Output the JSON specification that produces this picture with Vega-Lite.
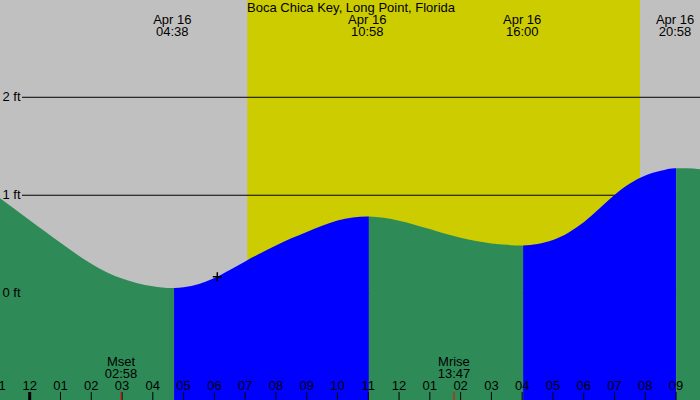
{
  "$schema": "https://vega.github.io/schema/vega-lite/v6.json",
  "width": 700,
  "height": 400,
  "padding": 0,
  "autosize": {"type": "none"},
  "background": "#c0c0c0",
  "config": {"view": {"stroke": null}, "font": "Liberation Sans"},
  "resolve": {"scale": {"color": "independent"}},
  "datasets": {
    "heading": [
      {"h": 10.44, "label": "Boca Chica Key, Long Point, Florida"}
    ],
    "sky": [
      {"start": -0.965, "end": 7.07, "period": "night"},
      {"start": 7.07, "end": 19.83, "period": "day"},
      {"start": 19.83, "end": 21.777, "period": "night"}
    ],
    "levels": [
      {"ft": 0, "label": "0 ft"},
      {"ft": 1, "label": "1 ft"},
      {"ft": 2, "label": "2 ft"}
    ],
    "hours": [
      {"h": -1, "label": "11"}, {"h": 0, "label": "12"}, {"h": 1, "label": "01"}, {"h": 2, "label": "02"},
      {"h": 3, "label": "03"}, {"h": 4, "label": "04"}, {"h": 5, "label": "05"}, {"h": 6, "label": "06"},
      {"h": 7, "label": "07"}, {"h": 8, "label": "08"}, {"h": 9, "label": "09"}, {"h": 10, "label": "10"},
      {"h": 11, "label": "11"}, {"h": 12, "label": "12"}, {"h": 13, "label": "01"}, {"h": 14, "label": "02"},
      {"h": 15, "label": "03"}, {"h": 16, "label": "04"}, {"h": 17, "label": "05"}, {"h": 18, "label": "06"},
      {"h": 19, "label": "07"}, {"h": 20, "label": "08"}, {"h": 21, "label": "09"}
    ],
    "tide": [
      {"h": -0.965, "ft": 0.969, "seg": 1, "phase": "falling"},
      {"h": -0.5, "ft": 0.862, "seg": 1, "phase": "falling"},
      {"h": 0, "ft": 0.746, "seg": 1, "phase": "falling"},
      {"h": 0.5, "ft": 0.63, "seg": 1, "phase": "falling"},
      {"h": 1, "ft": 0.515, "seg": 1, "phase": "falling"},
      {"h": 1.5, "ft": 0.402, "seg": 1, "phase": "falling"},
      {"h": 2, "ft": 0.3, "seg": 1, "phase": "falling"},
      {"h": 2.5, "ft": 0.215, "seg": 1, "phase": "falling"},
      {"h": 3, "ft": 0.15, "seg": 1, "phase": "falling"},
      {"h": 3.5, "ft": 0.103, "seg": 1, "phase": "falling"},
      {"h": 4, "ft": 0.072, "seg": 1, "phase": "falling"},
      {"h": 4.3, "ft": 0.058, "seg": 1, "phase": "falling"},
      {"h": 4.633, "ft": 0.052, "seg": 1, "phase": "falling"},
      {"h": 4.69, "ft": 0.052, "seg": 1, "phase": "falling"},
      {"h": 4.69, "ft": 0.052, "seg": 2, "phase": "rising"},
      {"h": 5, "ft": 0.062, "seg": 2, "phase": "rising"},
      {"h": 5.5, "ft": 0.095, "seg": 2, "phase": "rising"},
      {"h": 6, "ft": 0.155, "seg": 2, "phase": "rising"},
      {"h": 6.5, "ft": 0.238, "seg": 2, "phase": "rising"},
      {"h": 7, "ft": 0.325, "seg": 2, "phase": "rising"},
      {"h": 7.5, "ft": 0.408, "seg": 2, "phase": "rising"},
      {"h": 8, "ft": 0.487, "seg": 2, "phase": "rising"},
      {"h": 8.5, "ft": 0.56, "seg": 2, "phase": "rising"},
      {"h": 9, "ft": 0.626, "seg": 2, "phase": "rising"},
      {"h": 9.5, "ft": 0.688, "seg": 2, "phase": "rising"},
      {"h": 10, "ft": 0.741, "seg": 2, "phase": "rising"},
      {"h": 10.5, "ft": 0.772, "seg": 2, "phase": "rising"},
      {"h": 10.967, "ft": 0.782, "seg": 2, "phase": "rising"},
      {"h": 11.02, "ft": 0.782, "seg": 2, "phase": "rising"},
      {"h": 11.02, "ft": 0.782, "seg": 3, "phase": "falling"},
      {"h": 11.5, "ft": 0.77, "seg": 3, "phase": "falling"},
      {"h": 12, "ft": 0.74, "seg": 3, "phase": "falling"},
      {"h": 12.5, "ft": 0.7, "seg": 3, "phase": "falling"},
      {"h": 13, "ft": 0.655, "seg": 3, "phase": "falling"},
      {"h": 13.5, "ft": 0.607, "seg": 3, "phase": "falling"},
      {"h": 14, "ft": 0.566, "seg": 3, "phase": "falling"},
      {"h": 14.5, "ft": 0.532, "seg": 3, "phase": "falling"},
      {"h": 15, "ft": 0.508, "seg": 3, "phase": "falling"},
      {"h": 15.5, "ft": 0.494, "seg": 3, "phase": "falling"},
      {"h": 16, "ft": 0.486, "seg": 3, "phase": "falling"},
      {"h": 16.03, "ft": 0.486, "seg": 3, "phase": "falling"},
      {"h": 16.03, "ft": 0.486, "seg": 4, "phase": "rising"},
      {"h": 16.5, "ft": 0.502, "seg": 4, "phase": "rising"},
      {"h": 17, "ft": 0.543, "seg": 4, "phase": "rising"},
      {"h": 17.5, "ft": 0.618, "seg": 4, "phase": "rising"},
      {"h": 18, "ft": 0.725, "seg": 4, "phase": "rising"},
      {"h": 18.5, "ft": 0.862, "seg": 4, "phase": "rising"},
      {"h": 19, "ft": 1.003, "seg": 4, "phase": "rising"},
      {"h": 19.5, "ft": 1.12, "seg": 4, "phase": "rising"},
      {"h": 20, "ft": 1.202, "seg": 4, "phase": "rising"},
      {"h": 20.5, "ft": 1.25, "seg": 4, "phase": "rising"},
      {"h": 20.967, "ft": 1.276, "seg": 4, "phase": "rising"},
      {"h": 21.0, "ft": 1.276, "seg": 4, "phase": "rising"},
      {"h": 21.0, "ft": 1.276, "seg": 5, "phase": "falling"},
      {"h": 21.35, "ft": 1.275, "seg": 5, "phase": "falling"},
      {"h": 21.777, "ft": 1.265, "seg": 5, "phase": "falling"}
    ],
    "extremes": [
      {"h": 4.633, "label": "Apr 16\n04:38"},
      {"h": 10.967, "label": "Apr 16\n10:58"},
      {"h": 16.0, "label": "Apr 16\n16:00"},
      {"h": 20.967, "label": "Apr 16\n20:58"}
    ],
    "moon": [
      {"h": 2.967, "label": "Mset\n02:58"},
      {"h": 13.783, "label": "Mrise\n13:47"}
    ],
    "now": [
      {"h": 6.095, "ft": 0.169}
    ]
  },
  "layer": [
    {
      "data": {"name": "sky"},
      "mark": {"type": "rect", "clip": true},
      "encoding": {
        "x": {"field": "start", "type": "quantitative", "scale": {"domain": [-0.965, 21.777], "nice": false, "zero": false}, "axis": null},
        "x2": {"field": "end"},
        "color": {"field": "period", "type": "nominal", "scale": {"domain": ["night", "day"], "range": ["#c0c0c0", "#cccc00"]}, "legend": null}
      }
    },
    {
      "data": {"name": "levels"},
      "mark": {"type": "rule", "color": "#000000", "strokeWidth": 1},
      "encoding": {
        "y": {"field": "ft", "type": "quantitative", "scale": {"domain": [-1.09, 2.993], "nice": false, "zero": false}, "axis": null},
        "x": {"datum": -0.25, "type": "quantitative"},
        "x2": {"datum": 21.777}
      }
    },
    {
      "data": {"name": "tide"},
      "mark": {"type": "area", "interpolate": "monotone", "clip": true},
      "encoding": {
        "x": {"field": "h", "type": "quantitative"},
        "y": {"field": "ft", "type": "quantitative", "stack": null},
        "y2": {"datum": -1.09},
        "color": {"field": "phase", "type": "nominal", "scale": {"domain": ["falling", "rising"], "range": ["#2e8b57", "#0000ff"]}, "legend": null},
        "detail": {"field": "seg", "type": "nominal"}
      }
    },
    {
      "data": {"name": "levels"},
      "mark": {"type": "text", "align": "left", "baseline": "middle", "dx": 2.5, "fontSize": 13, "color": "#000000"},
      "encoding": {
        "y": {"field": "ft", "type": "quantitative"},
        "x": {"datum": -0.965, "type": "quantitative"},
        "text": {"field": "label"}
      }
    },
    {
      "data": {"name": "hours"},
      "mark": {"type": "rule", "color": "#000000"},
      "encoding": {
        "x": {"field": "h", "type": "quantitative"},
        "y": {"datum": -1.09, "type": "quantitative"},
        "y2": {"datum": -1.008},
        "strokeWidth": {"condition": {"test": "datum.h === 0", "value": 3}, "value": 1}
      }
    },
    {
      "data": {"name": "hours"},
      "mark": {"type": "text", "align": "center", "baseline": "alphabetic", "dy": -10, "fontSize": 13, "color": "#000000"},
      "encoding": {
        "x": {"field": "h", "type": "quantitative"},
        "y": {"datum": -1.09, "type": "quantitative"},
        "text": {"field": "label"}
      }
    },
    {
      "data": {"name": "heading"},
      "mark": {"type": "text", "align": "center", "baseline": "alphabetic", "dy": 12, "fontSize": 13, "color": "#000000"},
      "encoding": {
        "x": {"field": "h", "type": "quantitative"},
        "y": {"datum": 2.993, "type": "quantitative"},
        "text": {"field": "label"}
      }
    },
    {
      "data": {"name": "extremes"},
      "mark": {"type": "text", "align": "center", "baseline": "alphabetic", "dy": 24, "lineBreak": "\n", "lineHeight": 12, "fontSize": 13, "color": "#000000"},
      "encoding": {
        "x": {"field": "h", "type": "quantitative"},
        "y": {"datum": 2.993, "type": "quantitative"},
        "text": {"field": "label"}
      }
    },
    {
      "data": {"name": "moon"},
      "mark": {"type": "text", "align": "center", "baseline": "alphabetic", "dy": -34, "lineBreak": "\n", "lineHeight": 12, "fontSize": 13, "color": "#000000"},
      "encoding": {
        "x": {"field": "h", "type": "quantitative"},
        "y": {"datum": -1.09, "type": "quantitative"},
        "text": {"field": "label"}
      }
    },
    {
      "data": {"name": "moon"},
      "mark": {"type": "rule", "color": "#ff0000", "strokeWidth": 1},
      "encoding": {
        "x": {"field": "h", "type": "quantitative"},
        "y": {"datum": -1.09, "type": "quantitative"},
        "y2": {"datum": -1.008}
      }
    },
    {
      "data": {"name": "now"},
      "mark": {"type": "point", "shape": "M-1,0H1M0,-1V1", "size": 81, "stroke": "#000000", "strokeWidth": 1.5, "filled": false, "opacity": 1},
      "encoding": {
        "x": {"field": "h", "type": "quantitative"},
        "y": {"field": "ft", "type": "quantitative"}
      }
    }
  ]
}
